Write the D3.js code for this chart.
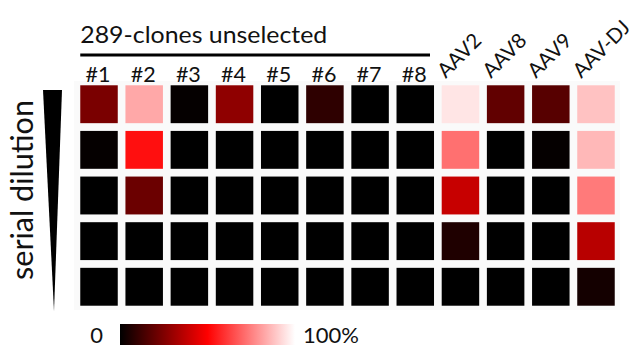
<!DOCTYPE html>
<html><head><meta charset="utf-8">
<script src="https://cdn.jsdelivr.net/npm/d3@7"></script>
<style>body{margin:0;background:#fff}svg{display:block}text{font-family:Lato,"Open Sans",sans-serif;fill:#111}</style>
</head><body><svg id="c" width="637" height="349"></svg>
<script>
const columns = ["#1","#2","#3","#4","#5","#6","#7","#8","AAV2","AAV8","AAV9","AAV-DJ"];
const rows = ["d1","d2","d3","d4","d5"];
// fraction 0..1 per row (dilution) per column
const row1 = [0.24,0.83,0.01,0.28,0.00,0.09,0.00,0.00,0.95,0.19,0.17,0.88];
const row2 = [0.01,0.53,0.00,0.00,0.00,0.00,0.00,0.00,0.72,0.00,0.01,0.86];
const row3 = [0.00,0.21,0.00,0.00,0.00,0.00,0.00,0.00,0.39,0.00,0.00,0.74];
const row4 = [0.00,0.00,0.00,0.00,0.00,0.00,0.00,0.00,0.06,0.00,0.00,0.36];
const row5 = [0.00,0.00,0.00,0.00,0.00,0.00,0.00,0.00,0.00,0.00,0.00,0.04];
const values = [row1,row2,row3,row4,row5];
const groupLabel = "289-clones unselected";
const yLabel = "serial dilution";
const legendLabels = ["0","100%"];

const svg = d3.select("#c");
const x = d3.scaleBand().domain(columns).range([78,617]).paddingInner(0.17).paddingOuter(0.05);
const y = d3.scaleBand().domain(rows).range([83,308]).paddingInner(0.17).paddingOuter(0.05);
const color = d3.scaleLinear().domain([0,0.5,1]).range(["#000000","#ff0000","#ffffff"]);

svg.append("rect").attr("x",74).attr("y",81).attr("width",546).attr("height",229).attr("fill","#fafafa");

const cells = [];
values.forEach((r,i)=>r.forEach((v,j)=>cells.push({row:rows[i],col:columns[j],v})));
svg.append("g").selectAll("rect").data(cells).join("rect")
  .attr("x",d=>x(d.col)).attr("y",d=>y(d.row))
  .attr("width",x.bandwidth()).attr("height",y.bandwidth())
  .attr("fill",d=>color(d.v));

// column labels
const clones = columns.slice(0,8), aav = columns.slice(8);
svg.append("g").selectAll("text").data(clones).join("text")
  .attr("x",d=>x(d)+x.bandwidth()/2-1).attr("y",82)
  .attr("text-anchor","middle").attr("font-size",21.5).text(d=>d);
const ag = svg.append("g").selectAll("g").data(aav).join("g")
  .attr("transform",d=>"translate(" + (x(d)+4) + ",79)");
ag.append("text").attr("transform","rotate(-45)").attr("x",0).attr("y",0)
  .attr("font-size",20.5).text(d=>d);

// group header
svg.append("text").attr("x",x("#1")).attr("y",43).attr("font-size",22.5)
  .attr("textLength",247).attr("lengthAdjust","spacingAndGlyphs").text(groupLabel);
svg.append("line").attr("x1",x("#1")).attr("x2",430)
  .attr("y1",55).attr("y2",55).attr("stroke","#000").attr("stroke-width",3);

// y label & triangle
svg.append("text").attr("transform","translate(33,190) rotate(-90)")
  .attr("text-anchor","middle").attr("font-size",31)
  .attr("textLength",180).attr("lengthAdjust","spacingAndGlyphs").text(yLabel);
svg.append("path").attr("d",d3.line()([[43,90],[62,90],[54,311]])).attr("fill","#000");

// legend
const defs = svg.append("defs");
const grad = defs.append("linearGradient").attr("id","lg");
[0,0.5,1].forEach(t=>grad.append("stop").attr("offset",t).attr("stop-color",color(t)));
const lx = d3.scaleLinear().domain([0,1]).range([120,295]);
svg.append("rect").attr("x",lx(0)).attr("y",324).attr("width",lx(1)-lx(0)).attr("height",21).attr("fill","url(#lg)");
svg.append("text").attr("x",lx(0)-17).attr("y",343).attr("text-anchor","end").attr("font-size",22).text(legendLabels[0]);
svg.append("text").attr("x",lx(1)+8).attr("y",343).attr("font-size",22).text(legendLabels[1]);
</script></body></html>
